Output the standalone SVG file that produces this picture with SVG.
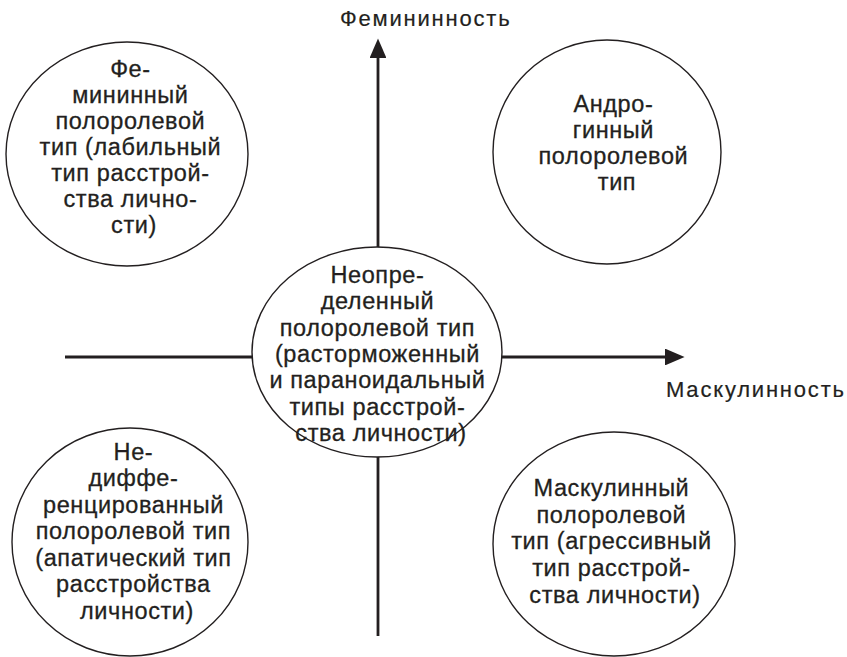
<svg xmlns="http://www.w3.org/2000/svg" width="847" height="657" viewBox="0 0 847 657">
<style>
.t{font-family:"Liberation Sans",Arial,sans-serif;font-size:23.5px;letter-spacing:0.6px;fill:#231f20;stroke:#231f20;stroke-width:0.3;text-anchor:middle}
.lbl{font-family:"Liberation Sans",Arial,sans-serif;font-size:22px;letter-spacing:1.8px;fill:#231f20;stroke:#231f20;stroke-width:0.2}
.c{fill:#fff;stroke:#231f20;stroke-width:1.4}
.ax{stroke:#231f20;stroke-width:2.8;fill:none}
</style>
<defs>
<marker id="ah" markerWidth="7" markerHeight="6" refX="0" refY="3" orient="auto" markerUnits="strokeWidth"><path d="M0,0 L7,3 L0,6 Z" fill="#231f20"/></marker>
</defs>
<rect width="847" height="657" fill="#fff"/>
<g id="axes">
<line class="ax" x1="378" y1="636" x2="378" y2="58" marker-end="url(#ah)"/>
<line class="ax" x1="65" y1="357" x2="665" y2="357" marker-end="url(#ah)"/>
</g>
<g id="label-fem"><text class="lbl" x="340" y="26">Фемининность</text></g>
<g id="label-masc"><text class="lbl" x="666" y="397">Маскулинность</text></g>
<g id="feminine">
<ellipse class="c" cx="127" cy="154" rx="121" ry="112"/>
<text class="t">
<tspan x="134" y="77">Фе-</tspan>
<tspan x="134" y="103">мининный</tspan>
<tspan x="134" y="129">полоролевой</tspan>
<tspan x="134" y="155">тип (лабильный</tspan>
<tspan x="134" y="181">тип расстрой-</tspan>
<tspan x="134" y="207">ства лично-</tspan>
<tspan x="134" y="233">сти)</tspan>
</text>
</g>
<g id="androgynous">
<ellipse class="c" cx="607" cy="152" rx="114" ry="112"/>
<text class="t">
<tspan x="617" y="112">Андро-</tspan>
<tspan x="617" y="138">гинный</tspan>
<tspan x="617" y="164">полоролевой</tspan>
<tspan x="617" y="190">тип</tspan>
</text>
</g>
<g id="undefined">
<ellipse class="c" cx="377" cy="352" rx="125" ry="105"/>
<text class="t">
<tspan x="381" y="283">Неопре-</tspan>
<tspan x="381" y="309">деленный</tspan>
<tspan x="381" y="336">полоролевой тип</tspan>
<tspan x="381" y="362">(расторможенный</tspan>
<tspan x="381" y="388">и параноидальный</tspan>
<tspan x="381" y="415">типы расстрой-</tspan>
<tspan x="381" y="441">ства личности)</tspan>
</text>
</g>
<g id="undifferentiated">
<ellipse class="c" cx="130" cy="542" rx="118" ry="114"/>
<text class="t">
<tspan x="137" y="460">Не-</tspan>
<tspan x="137" y="486">диффе-</tspan>
<tspan x="137" y="513">ренцированный</tspan>
<tspan x="137" y="539">полоролевой тип</tspan>
<tspan x="137" y="566">(апатический тип</tspan>
<tspan x="137" y="592">расстройства</tspan>
<tspan x="137" y="619">личности)</tspan>
</text>
</g>
<g id="masculine">
<ellipse class="c" cx="614" cy="544" rx="121" ry="112"/>
<text class="t">
<tspan x="615" y="496">Маскулинный</tspan>
<tspan x="615" y="523">полоролевой</tspan>
<tspan x="615" y="549">тип (агрессивный</tspan>
<tspan x="615" y="576">тип расстрой-</tspan>
<tspan x="615" y="603">ства личности)</tspan>
</text>
</g>
</svg>
